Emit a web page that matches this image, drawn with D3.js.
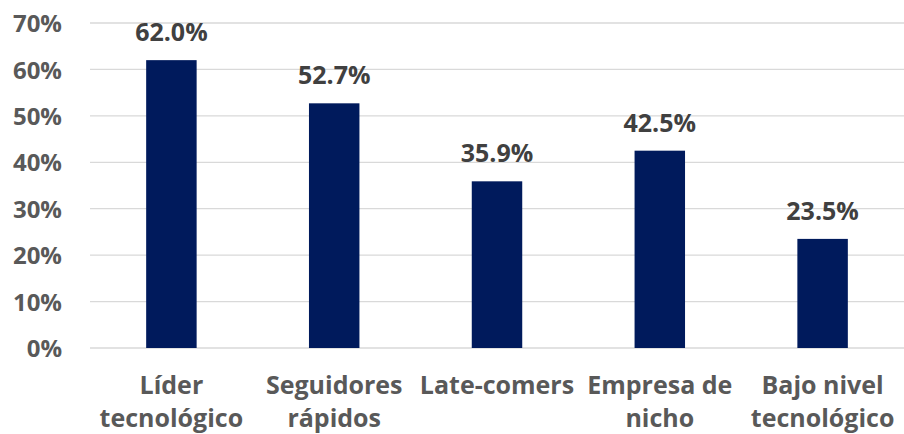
<!DOCTYPE html>
<html><head><meta charset="utf-8">
<script src="https://cdn.jsdelivr.net/npm/d3@7"></script>
<style>body{margin:0;background:#fff}svg{display:block}</style>
</head><body><svg id="c" width="904" height="434"></svg>
<script>
const categories = [["Líder","tecnológico"],["Seguidores","rápidos"],["Late-comers"],["Empresa de","nicho"],["Bajo nivel","tecnológico"]];
const values = [0.620, 0.527, 0.359, 0.425, 0.235];
const yTicks = [0,0.1,0.2,0.3,0.4,0.5,0.6,0.7];

const svg = d3.select("#c");
const font = "'Open Sans', Lato, sans-serif";
const x = d3.scaleBand().domain(d3.range(values.length)).range([90, 904]).paddingInner(0.69).paddingOuter(0.345);
const y = d3.scaleLinear().domain([0,0.7]).range([348, 23]);

const g = svg.append("g").attr("class","grid");
g.selectAll("line").data(yTicks).join("line")
  .attr("x1",90).attr("x2",904).attr("y1",d=>y(d)).attr("y2",d=>y(d))
  .attr("stroke","#d9d9d9").attr("stroke-width",1.3);

const yAxis = d3.axisLeft(y).tickValues(yTicks).tickFormat(d3.format(".0%")).tickSize(0).tickPadding(0);
const ya = svg.append("g").attr("transform","translate(62,0)").call(yAxis);
ya.select(".domain").remove();
ya.selectAll("text").attr("font-family",font).attr("font-weight","bold").attr("font-size",24).attr("fill","#595959").attr("dy","0.36em");

svg.append("g").selectAll("rect").data(values).join("rect")
  .attr("x",(d,i)=>x(i)).attr("width",x.bandwidth())
  .attr("y",d=>y(d)).attr("height",d=>y(0)-y(d)).attr("fill","#001a5c");

svg.append("g").selectAll("text").data(values).join("text")
  .attr("x",(d,i)=>x(i)+x.bandwidth()/2).attr("y",d=>y(d)-19)
  .attr("text-anchor","middle").attr("font-family",font).attr("font-weight","bold").attr("font-size",25)
  .attr("fill","#404040").text(d=>d3.format(".1%")(d));

const xl = svg.append("g");
categories.forEach((lines,i)=>{
  const t = xl.append("text").attr("text-anchor","middle").attr("font-family",font).attr("font-weight","bold")
    .attr("font-size",25).attr("fill","#595959");
  lines.forEach((s,j)=>t.append("tspan").attr("x",x(i)+x.bandwidth()/2).attr("y",394+j*33).text(s));
});
</script></body></html>
